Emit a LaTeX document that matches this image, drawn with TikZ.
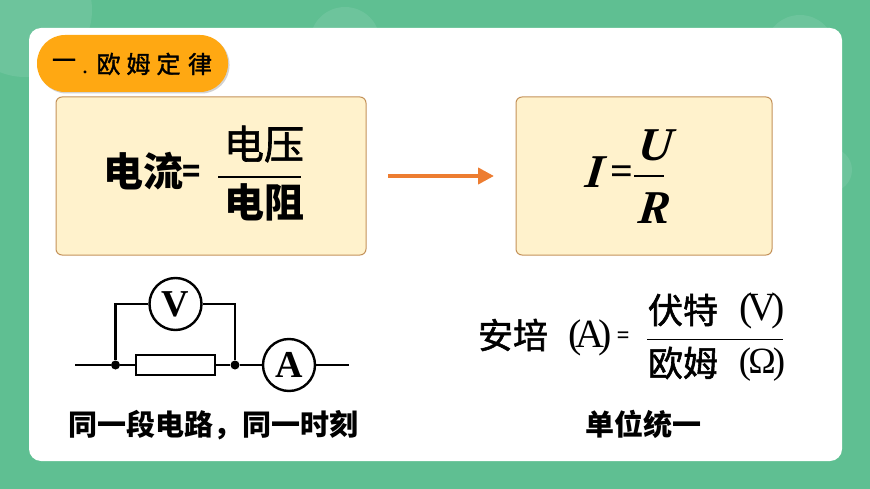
\documentclass[tikz,border=0pt]{standalone}
\usepackage{fontspec}
\setmainfont{Liberation Serif}
\newfontfamily\cjkfont{Noto Sans CJK SC}
\newfontfamily\cjkmed[FakeBold=1.6]{Noto Sans CJK SC}
\usetikzlibrary{arrows.meta,shadows}
\definecolor{bggreen}{HTML}{5FBF92}
\definecolor{bglight}{HTML}{6DC49C}
\definecolor{pillc}{HTML}{FFA812}
\definecolor{boxfill}{HTML}{FFF2CC}
\definecolor{boxline}{HTML}{C4925A}
\definecolor{arrowc}{HTML}{ED7D31}
\tikzset{
  x=1pt,y=-1pt,
  panel/.style={draw=boxline,line width=1pt,fill=boxfill,rounded corners=6pt,minimum height=158pt,inner sep=0pt},
  wire/.style={line width=2.4pt,black},
  meter/.style={circle,draw=black,fill=white,line width=2.4pt,minimum size=52pt,inner sep=0pt,font=\fontsize{38}{38}\selectfont\bfseries},
  resist/.style={rectangle,draw=black,fill=white,line width=2.4pt,minimum width=79pt,minimum height=20pt,inner sep=0pt},
  junction/.style={circle,fill=black,minimum size=9pt,inner sep=0pt},
  cjkb/.style={inner sep=0pt,font=\cjkfont\fontsize{#1}{#1}\selectfont\bfseries},
  cjkm/.style={inner sep=0pt,font=\cjkmed\fontsize{#1}{#1}\selectfont},
  serifr/.style={inner sep=0pt,font=\fontsize{#1}{#1}\selectfont},
  mathb/.style={inner sep=0pt,font=\fontsize{#1}{#1}\selectfont\bfseries\itshape,xslant=0.12,transform shape},
  fracline/.style={line width=1.4pt,black}
}
\begin{document}
\begin{tikzpicture}
\useasboundingbox (0,0) rectangle (870,489);
\fill[bggreen] (0,0) rectangle (870,489);
\begin{scope}
\clip (0,0) rectangle (870,489);
\fill[bglight] (25,10) circle (67);
\fill[bglight] (345,42) circle (35);
\fill[bglight] (800,50) circle (35);
\fill[bglight] (830,170) circle (22);
\end{scope}
\fill[white,rounded corners=12pt] (29,28) rectangle (842,461);

\node[rectangle,rounded corners=28pt,fill=pillc,minimum width=191pt,minimum height=57pt,inner sep=0pt,
  drop shadow={shadow xshift=1.5pt,shadow yshift=-1.5pt,opacity=0.35}] (pill) at (132.5,63.5) {};
\node[cjkm=24] (t1) at (64,64) {一};
\node[serifr=24] (t1d) at (85,72) {.};
\node[cjkm=24] (t2) at (108.5,64) {欧};
\node[cjkm=24] (t3) at (138.5,64) {姆};
\node[cjkm=24] (t4) at (168.5,64) {定};
\node[cjkm=24] (t5) at (200,64) {律};

\node[panel,minimum width=310pt] (box1) at (211,176) {};
\node[panel,minimum width=256pt] (box2) at (644,176) {};

\node[cjkb=40] (dl) at (143.5,171) {电流};
\node[cjkb=30] (eq1) at (192,174) {=};
\node[cjkm=40] (dy) at (264,144) {电压};
\node[cjkb=40] (dz) at (264,202) {电阻};
\coordinate (f1a) at (218,177);
\coordinate (f1b) at (301,177);
\draw[fracline] (f1a) -- (f1b);

\coordinate (arA) at (388,176);
\coordinate (arB) at (494,176);
\draw[arrowc,line width=4.5pt,-{Triangle[length=16pt,width=16pt]}] (arA) -- (arB);

\node[mathb=47] (I) at (595,172.5) {I};
\node[inner sep=0pt,font=\fontsize{40}{40}\selectfont\bfseries] (eq2) at (622,175) {=};
\node[mathb=47] (U) at (656,145) {U};
\node[mathb=47] (R) at (655,208) {R};
\coordinate (f2a) at (634,176);
\coordinate (f2b) at (664,176);
\draw[line width=2pt,black] (f2a) -- (f2b);

% circuit
\coordinate (w0) at (75,365);
\coordinate (w1) at (349,365);
\node[junction] (j1) at (115.5,365) {};
\node[junction] (j2) at (235,365) {};
\node[resist] (res) at (175.5,365) {};
\node[meter] (V) at (175.5,304) {V};
\node[meter] (A) at (289,365) {A};
\draw[wire] (w0) -- (j1) -- (res) (res) -- (j2) -- (A) (A) -- (w1);
\draw[wire] (j1) |- (V);
\draw[wire] (j2) |- (V);

\node[cjkb=29] (l1) at (213.5,425) {同一段电路，同一时刻};
\node[cjkb=29] (l2) at (643.5,424) {单位统一};

% units
\node[cjkm=35] (ap) at (513,335) {安培};
\node[serifr=40] (apu) at (590,338) {(\kern-6pt A\kern-6pt)};
\node[cjkm=21] (eq3) at (623,337) {=};
\node[cjkm=35] (ft) at (683,310) {伏特};
\node[serifr=40] (ftu) at (762,311) {(\kern-5pt V\kern-5pt)};
\node[cjkm=35] (om) at (683,363) {欧姆};
\node[serifr=37] (omu) at (762,365) {(\kern-3pt Ω\kern-3pt)};
\coordinate (f3a) at (647,339.5);
\coordinate (f3b) at (783,339.5);
\draw[fracline] (f3a) -- (f3b);
\end{tikzpicture}
\end{document}
